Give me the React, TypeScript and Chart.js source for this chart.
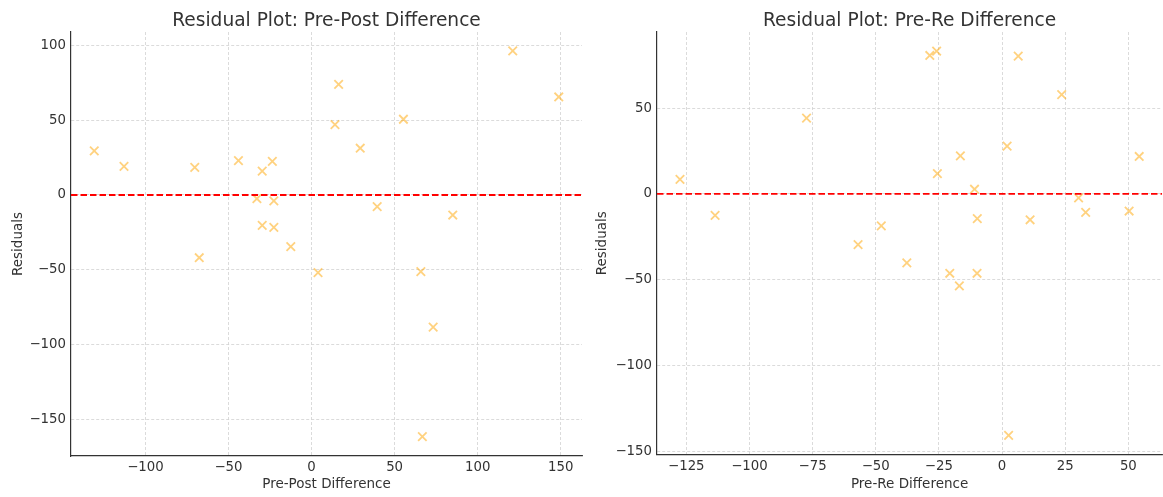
import React, { useEffect, useRef } from 'react';
import { Chart, registerables } from 'chart.js';

Chart.register(...registerables);

// Pre-Post difference vs. residuals
const prePostDiff = [
  -130.8, -112.9, -70.3, -67.6, -44.0, -32.9, -29.7, -29.7, -23.6, -22.7, -22.7, -12.5,
  3.9, 14.1, 16.3, 29.3, 39.5, 55.3, 65.8, 66.7, 73.2, 85.0, 121.1, 148.8,
];
const prePostResid = [
  29.5, 19.2, 18.5, -42.0, 23.0, -2.5, 16.0, -20.3, 22.5, -4.0, -21.7, -34.6,
  -52.0, 47.1, 74.1, 31.3, -7.8, 50.7, -51.3, -161.8, -88.4, -13.4, 96.4, 65.6,
];

// Pre-Re difference vs. residuals
const preReDiff = [
  -127.5, -113.6, -77.4, -57.0, -47.8, -37.7, -28.6, -25.9, -25.6, -20.7, -16.9, -16.5,
  -10.9, -9.9, -9.8, 2.0, 2.6, 6.4, 11.1, 23.6, 30.3, 33.1, 50.3, 54.3,
];
const preReResid = [
  8.5, -12.5, 44.2, -29.6, -18.7, -40.3, 80.7, 83.2, 11.8, -46.3, -53.7, 22.2,
  2.7, -46.3, -14.5, 27.8, -140.8, 80.3, -15.1, 57.9, -2.3, -10.8, -10.0, 21.8,
];

// Tick values
const prePostXTicks = [-100, -50, 0, 50, 100, 150];
const prePostYTicks = [-150, -100, -50, 0, 50, 100];
const preReXTicks = [-125, -100, -75, -50, -25, 0, 25, 50];
const preReYTicks = [-150, -100, -50, 0, 50];

// Axis limits
const prePostXRange = [-144.8, 162.8];
const prePostYRange = [-174.7, 109.1];
const preReXRange = [-136.6, 63.4];
const preReYRange = [-152.0, 94.4];

const FONT = "'DejaVu Sans', sans-serif";
const TEXT = '#333333';

const fmt = (v: number) => (v < 0 ? '\u2212' + Math.abs(v) : String(v));

type PanelProps = {
  title: string;
  xLabel: string;
  xs: number[];
  ys: number[];
  xTicks: number[];
  yTicks: number[];
  xRange: number[];
  yRange: number[];
  left: number;
  width: number;
  yAxisWidth: number;
  xAxisHeight: number;
  padRight: number;
  yTitlePad: number;
};

function Panel(p: PanelProps) {
  const ref = useRef<HTMLCanvasElement | null>(null);

  useEffect(() => {
    if (!ref.current) return;
    const titlePlugin = {
      id: 'panelTitle',
      afterDraw(chart: any) {
        const { ctx, chartArea } = chart;
        ctx.save();
        ctx.font = `18.6px ${FONT}`;
        ctx.fillStyle = TEXT;
        ctx.textAlign = 'center';
        ctx.textBaseline = 'alphabetic';
        ctx.fillText(p.title, (chartArea.left + chartArea.right) / 2, 26);
        ctx.restore();
      },
    };

    const chart = new Chart(ref.current, {
      type: 'scatter',
      data: {
        datasets: [
          {
            type: 'line',
            data: [
              { x: p.xRange[0], y: 0 },
              { x: p.xRange[1], y: 0 },
            ],
            borderColor: '#ff0000',
            borderWidth: 1.8,
            borderDash: [6.5, 3],
            pointRadius: 0,
            fill: false,
          } as any,
          {
            data: p.xs.map((x, i) => ({ x, y: p.ys[i] })),
            pointStyle: 'crossRot',
            pointRadius: 6,
            pointBorderWidth: 1.8,
            borderColor: 'rgba(255,165,0,0.5)',
            backgroundColor: 'rgba(255,165,0,0.5)',
            showLine: false,
          },
        ],
      },
      options: {
        animation: false,
        responsive: false,
        devicePixelRatio: 1,
        events: [],
        layout: { padding: { left: 0, right: p.padRight, top: 32, bottom: 0 } },
        plugins: {
          legend: { display: false },
          tooltip: { enabled: false },
        },
        scales: {
          x: {
            type: 'linear',
            min: p.xRange[0],
            max: p.xRange[1],
            afterBuildTicks: (s: any) => {
              s.ticks = p.xTicks.map((v) => ({ value: v }));
            },
            afterFit: (s: any) => {
              s.height = p.xAxisHeight;
            },
            ticks: {
              callback: (v: any) => fmt(Number(v)),
              color: TEXT,
              font: { family: FONT, size: 13.3 },
              padding: 4,
              maxRotation: 0,
              autoSkip: false,
            },
            grid: { color: '#d2d2d2', lineWidth: 0.8, drawTicks: false },
            border: { display: true, color: '#333333', width: 1.2, dash: [3, 2] },
            title: {
              display: true,
              text: p.xLabel,
              color: TEXT,
              font: { family: FONT, size: 13.5 },
              padding: { top: 0, bottom: 4 },
            },
          },
          y: {
            type: 'linear',
            min: p.yRange[0],
            max: p.yRange[1],
            afterBuildTicks: (s: any) => {
              s.ticks = p.yTicks.map((v) => ({ value: v }));
            },
            afterFit: (s: any) => {
              s.width = p.yAxisWidth;
            },
            ticks: {
              callback: (v: any) => fmt(Number(v)),
              color: TEXT,
              font: { family: FONT, size: 13.3 },
              padding: 5,
              autoSkip: false,
            },
            grid: { color: '#d2d2d2', lineWidth: 0.8, drawTicks: false },
            border: { display: true, color: '#333333', width: 1.2, dash: [3, 2] },
            title: {
              display: true,
              text: 'Residuals',
              color: TEXT,
              font: { family: FONT, size: 13.5 },
              padding: { top: p.yTitlePad, bottom: 0 },
            },
          },
        },
      },
      plugins: [titlePlugin],
    } as any);

    return () => chart.destroy();
  }, []);

  return (
    <div style={{ position: 'absolute', left: p.left, top: 0, width: p.width, height: 497 }}>
      <canvas ref={ref} width={p.width} height={497} style={{ display: 'block' }} />
    </div>
  );
}

export default function App() {
  return (
    <div
      style={{
        position: 'fixed',
        left: 0,
        top: 0,
        width: 1163,
        height: 497,
        overflow: 'hidden',
        background: '#ffffff',
      }}
    >
      <Panel
        title="Residual Plot: Pre-Post Difference"
        xLabel="Pre-Post Difference"
        xs={prePostDiff}
        ys={prePostResid}
        xTicks={prePostXTicks}
        yTicks={prePostYTicks}
        xRange={prePostXRange}
        yRange={prePostYRange}
        left={0}
        width={590}
        yAxisWidth={71}
        xAxisHeight={41}
        padRight={8}
        yTitlePad={10.5}
      />
      <Panel
        title="Residual Plot: Pre-Re Difference"
        xLabel="Pre-Re Difference"
        xs={preReDiff}
        ys={preReResid}
        xTicks={preReXTicks}
        yTicks={preReYTicks}
        xRange={preReXRange}
        yRange={preReYRange}
        left={590}
        width={580}
        yAxisWidth={67}
        xAxisHeight={42.5}
        padRight={2}
        yTitlePad={4.5}
      />
    </div>
  );
}
